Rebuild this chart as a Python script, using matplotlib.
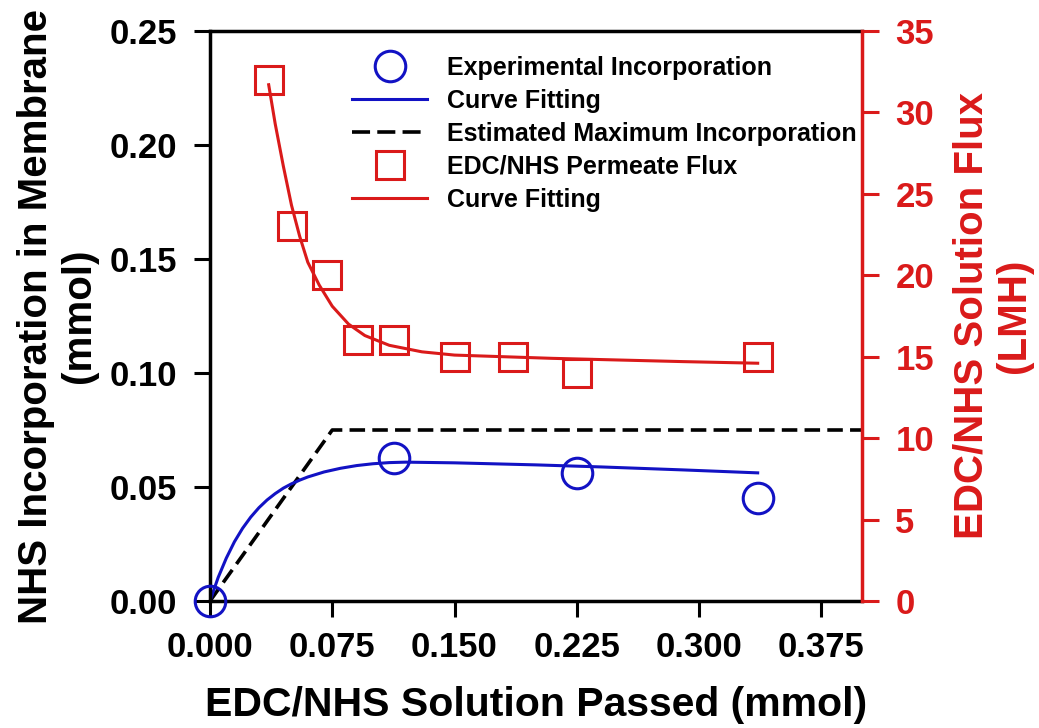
import matplotlib
matplotlib.use("Agg")
import matplotlib.pyplot as plt
from matplotlib.lines import Line2D

plt.rcParams['font.family'] = ['Liberation Sans', 'DejaVu Sans']
plt.rcParams['font.weight'] = 'bold'

BLUE = '#1212C4'
RED = '#DA1A1A'

# Experimental incorporation (left axis)
exp_x = [0.000, 0.113, 0.225, 0.336]
exp_y = [0.000, 0.0627, 0.056, 0.045]

# Curve fitting for incorporation
fitb_x = [0.000, 0.005, 0.010, 0.015, 0.020, 0.025, 0.030, 0.035, 0.040, 0.045,
          0.050, 0.055, 0.060, 0.070, 0.080, 0.090, 0.100, 0.110, 0.120, 0.150,
          0.200, 0.240, 0.290, 0.336]
fitb_y = [0.000, 0.0103, 0.0188, 0.0260, 0.0319, 0.0368, 0.0409, 0.0443, 0.0471, 0.0495,
          0.0514, 0.0530, 0.0544, 0.0566, 0.0582, 0.0594, 0.0602, 0.0607, 0.0609, 0.0606,
          0.0597, 0.0588, 0.0575, 0.0562]

# Estimated maximum incorporation
est_x = [0.000, 0.075, 0.400]
est_y = [0.000, 0.075, 0.075]

# Permeate flux (right axis)
flux_x = [0.036, 0.050, 0.072, 0.091, 0.113, 0.150, 0.186, 0.225, 0.336]
flux_y = [32, 23, 20, 16, 16, 15, 15, 14, 15]

# Curve fitting for flux
fitr_x = [0.036, 0.040, 0.045, 0.050, 0.055, 0.060, 0.067, 0.075, 0.085, 0.095,
          0.110, 0.130, 0.150, 0.180, 0.210, 0.250, 0.290, 0.336]
fitr_y = [31.7, 29.3, 26.7, 24.3, 22.4, 20.8, 19.4, 18.1, 17.0, 16.3,
          15.7, 15.3, 15.1, 15.0, 14.9, 14.8, 14.7, 14.6]

xticks = [0.000, 0.075, 0.150, 0.225, 0.300, 0.375]
xtick_labels = ['0.000', '0.075', '0.150', '0.225', '0.300', '0.375']
yticks_left = [0.00, 0.05, 0.10, 0.15, 0.20, 0.25]
ytick_left_labels = ['0.00', '0.05', '0.10', '0.15', '0.20', '0.25']
yticks_right = [0, 5, 10, 15, 20, 25, 30, 35]

W, H = 1039, 728
fig = plt.figure(figsize=(W / 100, H / 100), dpi=100)
L, R, T, B = 210, 862, 31, 601
ax = fig.add_axes([L / W, 1 - B / H, (R - L) / W, (B - T) / H])
ax2 = ax.twinx()

ax.set_xlim(0, 0.40)
ax.set_ylim(0, 0.25)
ax2.set_ylim(0, 35)

# left-axis data
h_est, = ax.plot(est_x, est_y, color='black', lw=2.6, dashes=(4.3, 2.0))
h_fitb, = ax.plot(fitb_x, fitb_y, color=BLUE, lw=2.2)
h_exp, = ax.plot(exp_x, exp_y, ls='none', marker='o', ms=22, mfc='none',
                 mec=BLUE, mew=2.2, clip_on=False, zorder=5)

# right-axis data
h_fitr, = ax2.plot(fitr_x, fitr_y, color=RED, lw=2.2)
h_flux, = ax2.plot(flux_x, flux_y, ls='none', marker='s', ms=20, mfc='none',
                   mec=RED, mew=2.2, clip_on=False, zorder=5)

# spines
for s in ['left', 'bottom', 'top']:
    ax.spines[s].set_linewidth(2.5)
    ax.spines[s].set_color('black')
ax.spines['right'].set_visible(False)
for s in ['left', 'bottom', 'top']:
    ax2.spines[s].set_visible(False)
ax2.spines['right'].set_color(RED)
ax2.spines['right'].set_linewidth(2.5)

# ticks
ax.set_xticks(xticks)
ax.set_xticklabels(xtick_labels)
ax.set_yticks(yticks_left)
ax.set_yticklabels(ytick_left_labels)
ax.tick_params(axis='both', direction='out', length=11.5, width=2.2,
               labelsize=25, pad=10, top=False, right=False)
ax.tick_params(axis='y', pad=12)
ax2.set_yticks(yticks_right)
ax2.tick_params(axis='y', direction='out', length=12, width=2.2, colors=RED,
                labelsize=25, pad=12)
for lab in ax.get_xticklabels() + ax.get_yticklabels() + ax2.get_yticklabels():
    lab.set_fontweight('bold')

# labels
ax.set_xlabel('EDC/NHS Solution Passed (mmol)', fontsize=29.5, fontweight='bold')
ax.xaxis.set_label_coords(0.5, (B - 686) / (B - T))
ax.set_ylabel('NHS Incorporation in Membrane\n(mmol)', fontsize=29,
              fontweight='bold', linespacing=1.15)
ax.yaxis.set_label_coords((98 - L) / (R - L), 0.5)
ax2.set_ylabel('EDC/NHS Solution Flux\n(LMH)', fontsize=29, fontweight='bold',
               color=RED, linespacing=1.15)
ax2.yaxis.set_label_coords((952 - L) / (R - L), 0.5)

# legend (dashed entry uses a legend-only proxy with longer dashes)
h_est_leg = Line2D([], [], color='black', lw=2.6, dashes=(5.0, 2.0))
handles = [h_exp, h_fitb, h_est_leg, h_flux, h_fitr]
labels = ['Experimental Incorporation', 'Curve Fitting',
          'Estimated Maximum Incorporation', 'EDC/NHS Permeate Flux', 'Curve Fitting']
leg = ax2.legend(handles, labels, loc='upper left',
                 bbox_to_anchor=((352 - L) / (R - L), (B - 56) / (B - T)),
                 frameon=False, borderpad=0, borderaxespad=0,
                 handlelength=3.0, handletextpad=0.8, labelspacing=0.36,
                 prop={'weight': 'bold', 'size': 18})

fig.savefig('out.png', dpi=100)
